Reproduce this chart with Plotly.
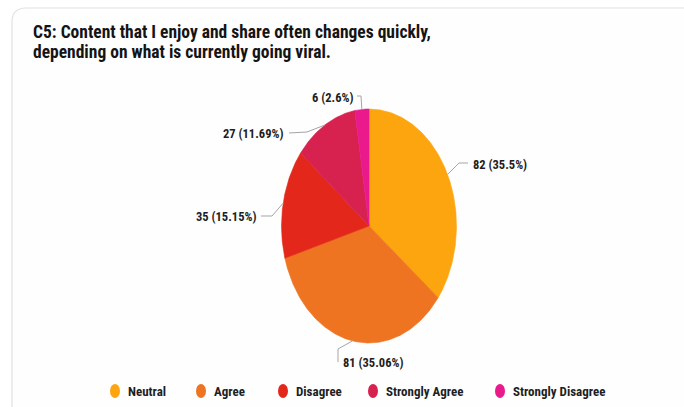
import numpy as np
import plotly.graph_objects as go

# Survey responses for statement C5
categories = ["Neutral", "Agree", "Disagree", "Strongly Agree", "Strongly Disagree"]
counts = [82, 81, 35, 27, 6]
colors = ["#FDA50F", "#EE7421", "#E3281B", "#D7214F", "#EA1A8D"]
title_lines = [
    "C5: Content that I enjoy and share often changes quickly,",
    "depending on what is currently going viral.",
]

W, H = 684, 407
FONT = "Liberation Sans Narrow, Arial Narrow, Roboto Condensed, Liberation Sans, sans-serif"

# Pie geometry (pixel space, y grows downward)
CX, CY, RX, RY = 369.0, 226.0, 87.5, 117.0

# Label anchor, alignment and leader-line bend for each slice
label_layout = [
    dict(x=471, y=164, anchor="left", path=[(459, 163), (468, 163)]),
    dict(x=341, y=362, anchor="left", path=[(338, 349), (338, 362)]),
    dict(x=258, y=216, anchor="right", path=[(272, 216), (261, 216)]),
    dict(x=285, y=133, anchor="right", path=[(307, 132), (289, 133)]),
    dict(x=356, y=97, anchor="right", path=[(361, 96), (357, 96)]),
]


def ellipse_pt(deg):
    t = np.radians(deg)
    return CX + RX * np.sin(t), CY - RY * np.cos(t)


total = sum(counts)
fig = go.Figure()

# Slices as filled wedges, clockwise from 12 o'clock
start = 0.0
mids = []
for name, val, col in zip(categories, counts, colors):
    sweep = 360.0 * val / total
    ang = np.linspace(start, start + sweep, max(int(sweep * 2), 4))
    px, py = ellipse_pt(ang)
    xs = np.concatenate([[CX], px, [CX]])
    ys = np.concatenate([[CY], py, [CY]])
    fig.add_trace(go.Scatter(
        x=xs, y=ys, mode="lines", fill="toself", fillcolor=col,
        line=dict(color=col, width=0.6), hoverinfo="skip", showlegend=False, name=name,
    ))
    mids.append(start + sweep / 2)
    start += sweep

shapes = []
annotations = []

# Card background
shapes.append(dict(
    type="path", xref="x", yref="y", layer="below",
    path="M 26,8 L 720,8 L 720,440 L 12,440 L 12,22 Q 12,8 26,8 Z",
    fillcolor="#FEFEFE", line=dict(color="#E2E2E2", width=1.2),
))

# Leader lines and value labels
for val, mid, lay in zip(counts, mids, label_layout):
    sx, sy = ellipse_pt(mid)
    pts = [(sx, sy)] + lay["path"]
    fig.add_trace(go.Scatter(
        x=[p[0] for p in pts], y=[p[1] for p in pts], mode="lines",
        line=dict(color="#A5A5A5", width=1), hoverinfo="skip", showlegend=False,
    ))
    pct = round(100.0 * val / total, 2)
    annotations.append(dict(
        x=lay["x"], y=lay["y"], xref="x", yref="y", showarrow=False,
        text=f"<b>{val} ({pct:g}%)</b>", xanchor=lay["anchor"], yanchor="middle",
        font=dict(family=FONT, size=12.5, color="#1E1E1E"),
    ))

# Title
for i, line in enumerate(title_lines):
    annotations.append(dict(
        x=31, y=32 + i * 20, xref="x", yref="y", showarrow=False,
        text=f"<b>{line}</b>", xanchor="left", yanchor="middle",
        font=dict(family=FONT, size=17.5, color="#141414"),
    ))

# Legend row
legend_marker_x = [115, 201, 283, 373, 500]
for name, col, mx in zip(categories, colors, legend_marker_x):
    shapes.append(dict(
        type="circle", xref="x", yref="y", x0=mx - 5, x1=mx + 5, y0=384, y1=398,
        fillcolor=col, line=dict(color=col, width=0),
    ))
    annotations.append(dict(
        x=mx + 11, y=391, xref="x", yref="y", showarrow=False,
        text=f"<b>{name}</b>", xanchor="left", yanchor="middle",
        font=dict(family=FONT, size=13, color="#1E1E1E"),
    ))

fig.update_layout(
    width=W, height=H, margin=dict(l=0, r=0, t=0, b=0),
    paper_bgcolor="white", plot_bgcolor="white",
    xaxis=dict(range=[0, W], visible=False, fixedrange=True),
    yaxis=dict(range=[H, 0], visible=False, fixedrange=True),
    shapes=shapes, annotations=annotations, hovermode=False,
)

fig.write_html("out.html")
